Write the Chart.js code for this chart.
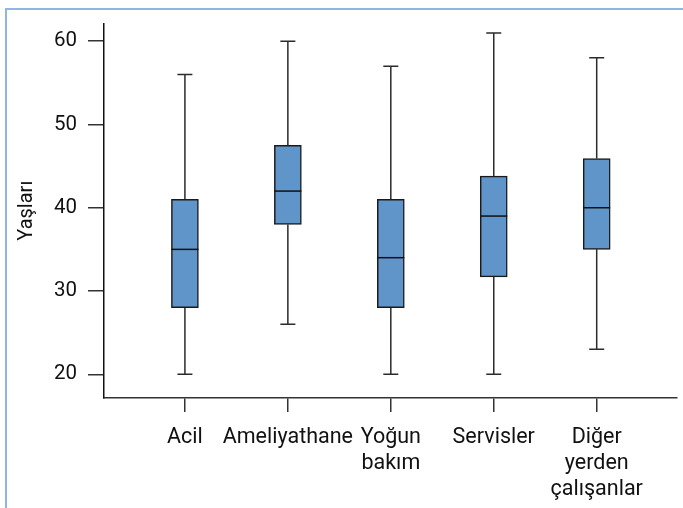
<!DOCTYPE html>
<html>
<head>
<meta charset="utf-8">
<script src="https://cdn.jsdelivr.net/npm/chart.js@4.4.0/dist/chart.umd.min.js"></script>
<style>
  html, body { margin: 0; padding: 0; background: #fff; }
  #wrap { position: relative; width: 683px; height: 508px; overflow: hidden; }
  #frame { position: absolute; left: 5px; top: 8px; width: 700px; height: 520px;
           border-left: 2px solid #8db6e2; border-top: 2px solid #8db6e2; }
  #chart { position: absolute; left: 0; top: 0; }
</style>
</head>
<body>
<div id="wrap">
  <div id="frame"></div>
  <canvas id="chart" width="683" height="508"></canvas>
</div>
<script>
// Categories and box plot values
const categories = ["Acil", "Ameliyathane", ["Yoğun", "bakım"], "Servisler", ["Diğer", "yerden", "çalışanlar"]];
const minValues = [20, 26, 20, 20, 23];
const q1Values = [28, 38, 28, 31.7, 35];
const medianValues = [35, 42, 34, 39, 40];
const q3Values = [41, 47.5, 41, 43.8, 45.9];
const maxValues = [56, 60, 57, 61, 58];
const yTicks = [20, 30, 40, 50, 60];

const axisColor = "#333333";
const boxColor = "#5f95c9";

// Whiskers and medians drawn from the scales
const boxPlotLines = {
  id: "boxPlotLines",
  beforeDatasetsDraw(chart) {
    const { ctx, scales: { x, y } } = chart;
    ctx.save();
    ctx.strokeStyle = "#2b2b2b";
    ctx.lineWidth = 1.5;
    for (let i = 0; i < categories.length; i++) {
      const px = x.getPixelForValue(i);
      const capHalf = 7.5;
      ctx.beginPath();
      ctx.moveTo(px, y.getPixelForValue(maxValues[i]));
      ctx.lineTo(px, y.getPixelForValue(q3Values[i]));
      ctx.moveTo(px, y.getPixelForValue(q1Values[i]));
      ctx.lineTo(px, y.getPixelForValue(minValues[i]));
      ctx.moveTo(px - capHalf, y.getPixelForValue(maxValues[i]));
      ctx.lineTo(px + capHalf, y.getPixelForValue(maxValues[i]));
      ctx.moveTo(px - capHalf, y.getPixelForValue(minValues[i]));
      ctx.lineTo(px + capHalf, y.getPixelForValue(minValues[i]));
      ctx.stroke();
    }
    ctx.restore();
  },
  afterDatasetsDraw(chart) {
    const { ctx, scales: { y } } = chart;
    const meta = chart.getDatasetMeta(0);
    ctx.save();
    ctx.strokeStyle = "#111111";
    ctx.lineWidth = 1.5;
    meta.data.forEach((bar, i) => {
      const py = y.getPixelForValue(medianValues[i]);
      ctx.beginPath();
      ctx.moveTo(bar.x - bar.width / 2, py);
      ctx.lineTo(bar.x + bar.width / 2, py);
      ctx.stroke();
    });
    ctx.restore();
  }
};

const boxData = categories.map((c, i) => ({ x: i, y: [q1Values[i], q3Values[i]] }));

new Chart(document.getElementById("chart"), {
  type: "bar",
  data: {
    datasets: [{
      data: boxData,
      backgroundColor: boxColor,
      borderColor: "#1a1a1a",
      borderWidth: 1.5,
      borderSkipped: false,
      barThickness: 27
    }]
  },
  options: {
    responsive: false,
    animation: false,
    events: [],
    layout: { padding: { top: 22, right: 6, left: 0, bottom: 0 } },
    plugins: { legend: { display: false }, tooltip: { enabled: false } },
    scales: {
      x: {
        type: "linear",
        offset: false,
        min: -0.786,
        max: 4.78,
        afterBuildTicks: (scale) => { scale.ticks = categories.map((c, i) => ({ value: i })); },
        afterFit: (scale) => { scale.height = 110; },
        ticks: {
          callback: (value) => categories[value],
          color: "#111",
          font: { family: "Roboto", size: 21.5, lineHeight: 1.2 },
          padding: 13,
          maxRotation: 0,
          autoSkip: false
        },
        grid: { offset: false, drawOnChartArea: false, drawTicks: true, tickLength: 14, color: axisColor, lineWidth: 1.5 },
        border: { display: true, color: axisColor, width: 1.5 }
      },
      y: {
        min: 17.15,
        max: 62.15,
        afterBuildTicks: (scale) => { scale.ticks = yTicks.map(v => ({ value: v })); },
        afterFit: (scale) => { scale.width = 104; },
        ticks: {
          color: "#111",
          font: { family: "Roboto", size: 20.5 },
          padding: 11
        },
        grid: { drawOnChartArea: false, drawTicks: true, tickLength: 16, color: axisColor, lineWidth: 1.5 },
        border: { display: true, color: "#111", width: 1.5 },
        title: {
          display: true,
          text: "Yaşları",
          color: "#111",
          font: { family: "Roboto", size: 20 },
          padding: { top: 15, bottom: 0 }
        }
      }
    }
  },
  plugins: [boxPlotLines]
});
</script>
</body>
</html>
